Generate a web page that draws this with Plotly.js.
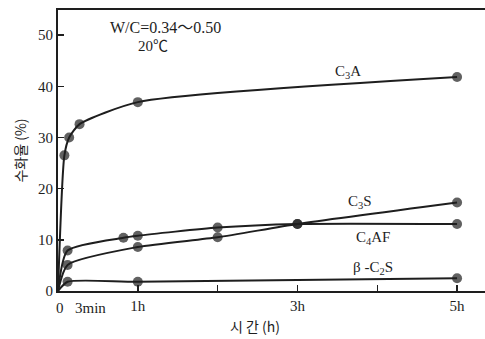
<!DOCTYPE html>
<html>
<head>
<meta charset="utf-8">
<script src="https://cdn.plot.ly/plotly-3.0.1.min.js"></script>
<style>
  html, body { margin: 0; padding: 0; background: #fff; }
  #chart { width: 485px; height: 339px; }
</style>
</head>
<body>
<div id="chart"></div>
<script>
// Hydration degree (%) of the clinker minerals versus time (h)
const c3aTime   = [0, 0.08, 0.14, 0.27, 1.0, 5.0];
const c3aValue  = [0, 26.5, 30.0, 32.6, 36.9, 41.8];

const c3sTime   = [0, 0.12, 1.0, 2.0, 3.0, 5.0];
const c3sValue  = [0, 5.1, 8.6, 10.5, 13.1, 17.3];

const c4afTime  = [0, 0.12, 0.82, 1.0, 2.0, 3.0, 5.0];
const c4afValue = [0, 7.9, 10.4, 10.8, 12.4, 13.1, 13.1];

const c2sTime   = [0, 0.12, 1.0, 5.0];
const c2sValue  = [0, 1.8, 1.8, 2.5];

const xTickVals = [1, 2, 3, 4, 5];
const xTickText = ['1h', '', '3h', '', '5h'];
const yTickVals = [0, 10, 20, 30, 40, 50];

const ink = '#1e1e1e';
const serif = '"Liberation Serif", "Noto Sans CJK KR", serif';
const kr = '"Noto Sans CJK KR", "Liberation Serif", sans-serif';

// the origin point of each curve carries no marker
function markerSizes(n) {
  return Array.from({length: n}, (_, i) => (i === 0 ? 0 : 10));
}

function series(t, v) {
  return {
    x: t, y: v,
    type: 'scatter',
    mode: 'lines+markers',
    line: {color: ink, width: 2, shape: 'spline', smoothing: 0.6},
    marker: {color: ink, size: markerSizes(t.length), line: {width: 0}},
    hoverinfo: 'skip',
    showlegend: false
  };
}

const data = [
  series(c3aTime, c3aValue),
  series(c3sTime, c3sValue),
  series(c4afTime, c4afValue),
  series(c2sTime, c2sValue)
];

function note(xref, yref, x, y, text, font, yshift) {
  return {xref, yref, x, y, text, showarrow: false,
          xanchor: 'center', yanchor: 'middle', yshift: yshift || 0,
          font: font || {family: serif, size: 15, color: ink}};
}

const layout = {
  width: 485, height: 339,
  margin: {l: 58, r: 0, t: 10, b: 48},
  paper_bgcolor: '#fff',
  plot_bgcolor: '#fff',
  font: {family: serif, size: 15, color: ink},
  xaxis: {
    range: [0, 5.35],
    showgrid: false, zeroline: false,
    showline: true, linecolor: ink, linewidth: 2, mirror: true,
    ticks: 'inside', ticklen: 6, tickwidth: 1.5, tickcolor: ink,
    tickvals: xTickVals, ticktext: xTickText,
    tickfont: {family: serif, size: 15, color: ink}
  },
  yaxis: {
    range: [0, 54.9],
    showgrid: false, zeroline: false,
    showline: true, linecolor: ink, linewidth: 2,
    ticks: 'inside', ticklen: 6, tickwidth: 1.5, tickcolor: ink,
    tickvals: yTickVals,
    tickfont: {family: serif, size: 15, color: ink},
    title: {text: '수화율 (%)', font: {family: kr, size: 14, color: ink}, standoff: 8}
  },
  annotations: [
    note('paper', 'paper', 0.005, 0, '0', null, -17),
    note('paper', 'paper', 0.075, 0, '3min', null, -17),
    note('paper', 'paper', 0.462, 0, '시 간 (h)', {family: kr, size: 14, color: ink}, -35),
    note('x', 'y', 1.35, 51.5, 'W/C=0.34～0.50', {family: serif, size: 16, color: ink}),
    note('x', 'y', 1.19, 47.8, '20℃'),
    note('x', 'y', 3.63, 42.7, 'C<sub>3</sub>A'),
    note('x', 'y', 3.78, 17.4, 'C<sub>3</sub>S'),
    note('x', 'y', 3.95, 10.3, 'C<sub>4</sub>AF'),
    note('x', 'y', 3.95, 4.5, 'β -C<sub>2</sub>S')
  ]
};

Plotly.newPlot('chart', data, layout, {displayModeBar: false, staticPlot: true});
</script>
</body>
</html>
